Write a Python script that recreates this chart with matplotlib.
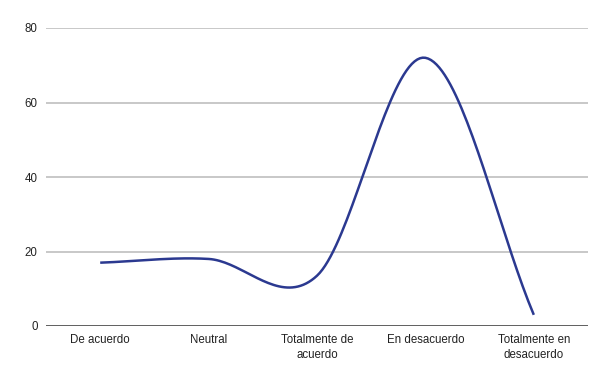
import numpy as np
import matplotlib.pyplot as plt

categories = ['De acuerdo', 'Neutral', 'Totalmente de\nacuerdo', 'En desacuerdo', 'Totalmente en\ndesacuerdo']
values = [17, 18, 13.5, 72, 3]
yticks = [0, 20, 40, 60, 80]

plt.rcParams['font.family'] = ['Liberation Sans', 'DejaVu Sans']


def smooth(x, y, n=40):
    # cardinal (Catmull-Rom) spline through the points, like a smoothed sheet chart
    x = np.asarray(x, float)
    y = np.asarray(y, float)
    m = np.zeros_like(y)
    m[1:-1] = (y[2:] - y[:-2]) / (x[2:] - x[:-2])
    m[0] = (y[1] - y[0]) / (x[1] - x[0])
    m[-1] = (y[-1] - y[-2]) / (x[-1] - x[-2])
    xs, ys = [], []
    for i in range(len(x) - 1):
        h = x[i + 1] - x[i]
        t = np.linspace(0, 1, n, endpoint=(i == len(x) - 2))
        h00 = 2 * t**3 - 3 * t**2 + 1
        h10 = t**3 - 2 * t**2 + t
        h01 = -2 * t**3 + 3 * t**2
        h11 = t**3 - t**2
        xs.append(x[i] + t * h)
        ys.append(h00 * y[i] + h10 * h * m[i] + h01 * y[i + 1] + h11 * h * m[i + 1])
    return np.concatenate(xs), np.concatenate(ys)


pos = np.arange(len(categories))
sx, sy = smooth(pos, values)

fig = plt.figure(figsize=(6.04, 3.74), dpi=100)
ax = fig.add_axes([46 / 604, 1 - 326 / 374, 542 / 604, 298 / 374])

for yt in yticks[1:]:
    ax.axhline(yt, color='#c8c8c8', lw=1.4, zorder=1)
ax.axhline(0, color='#444444', lw=1.2, zorder=2)

ax.plot(sx, sy, color='#2b3990', lw=1.8, zorder=3, solid_capstyle='butt')

ax.set_xlim(-0.5, len(categories) - 0.5)
ax.set_ylim(0, 80)
ax.set_xticks(pos)
ax.set_xticklabels(categories, fontsize=8.3, color='#222222', linespacing=1.25)
ax.set_yticks(yticks)
ax.set_yticklabels([str(v) for v in yticks], fontsize=8.3, color='#222222')
ax.tick_params(length=0, pad=6)
for s in ax.spines.values():
    s.set_visible(False)

plt.savefig('out.png', dpi=100)
